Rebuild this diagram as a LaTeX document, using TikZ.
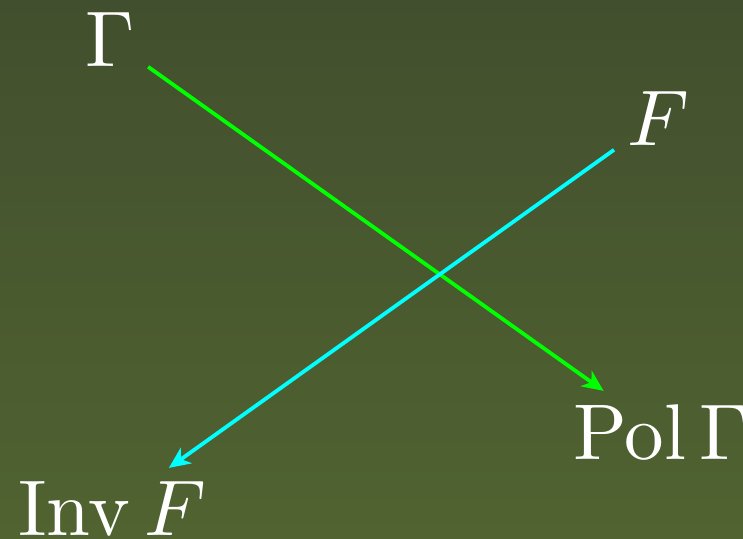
\documentclass[tikz,border=0pt]{standalone}
\usepackage{amsmath}
\usetikzlibrary{arrows.meta}
\definecolor{bgtop}{RGB}{66,79,46}
\definecolor{bgbot}{RGB}{80,99,48}
\definecolor{arrgreen}{RGB}{0,255,0}
\definecolor{arrcyan}{RGB}{0,255,255}
\tikzset{
  lbl/.style={text=white,inner sep=1.5pt,anchor=base west},
  cdarrow/.style={line width=0.48pt,-{Stealth[length=2.7pt,width=2.4pt,inset=0.8pt]}}
}
\begin{document}
\begin{tikzpicture}
    % background
    \shade[top color=bgtop,bottom color=bgbot] (0,0) rectangle (3.306,2.394);
    \useasboundingbox (0,0) rectangle (3.306,2.394);
    % the four objects
    \node[lbl] (G) at (0.320,2.097) {$\Gamma$};
    \node[lbl] (F) at (2.732,1.748) {$F$};
    \node[lbl] (PolG) at (2.491,0.351) {$\operatorname{Pol}\Gamma$};
    \node[lbl] (InvF) at (0.022,0.012) {$\operatorname{Inv}F$};
    % the two maps
    \draw[cdarrow,arrgreen] (G) -- (PolG);
    \draw[cdarrow,arrcyan] (F) -- (InvF);
\end{tikzpicture}
\end{document}
